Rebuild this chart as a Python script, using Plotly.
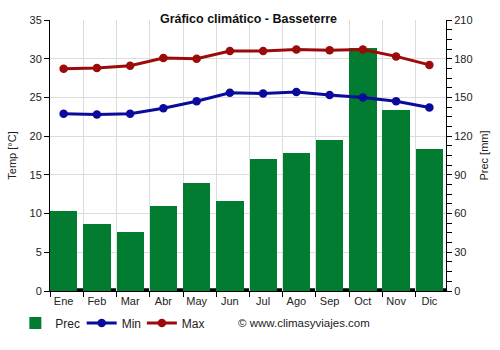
import numpy as np
import plotly.graph_objects as go

months = ["Ene", "Feb", "Mar", "Abr", "May", "Jun", "Jul", "Ago", "Sep", "Oct", "Nov", "Dic"]
prec = [62, 52, 46, 66, 84, 70, 102, 107, 117, 188, 140, 110]
tmin = [22.9, 22.8, 22.9, 23.6, 24.5, 25.6, 25.5, 25.7, 25.3, 25.0, 24.5, 23.7]
tmax = [28.7, 28.8, 29.1, 30.1, 30.0, 31.0, 31.0, 31.2, 31.1, 31.2, 30.3, 29.2]

idx = np.arange(len(months))
xc = idx + 0.41

GREEN = "#027c30"
BLUE = "#0a0a9c"
RED = "#9c0a0a"
FONT = "Liberation Sans, Arial, sans-serif"

fig = go.Figure()
fig.add_trace(go.Bar(x=xc, y=prec, width=0.82, name="Prec", marker=dict(color=GREEN, line=dict(width=0)),
                     yaxis="y", legend="legend"))
fig.add_trace(go.Scatter(x=xc, y=tmin, name="Min", mode="lines+markers",
                         line=dict(color=BLUE, width=3), marker=dict(size=8.5, color=BLUE),
                         yaxis="y2", legend="legend2"))
fig.add_trace(go.Scatter(x=xc, y=tmax, name="Max", mode="lines+markers",
                         line=dict(color=RED, width=3), marker=dict(size=8.5, color=RED),
                         yaxis="y2", legend="legend3"))

# thick dark baseline under the bars
fig.add_shape(type="rect", xref="paper", x0=0, x1=1, yref="y", y0=0, y1=2.2,
              fillcolor="black", line=dict(width=0), layer="below")

leg_common = dict(orientation="h", xanchor="left", y=-0.118, yanchor="middle",
                  font=dict(size=12, color="#222"), itemwidth=30, bgcolor="rgba(0,0,0,0)")

fig.update_layout(
    width=500, height=350,
    margin=dict(l=49, r=51, t=19.5, b=57.5),
    paper_bgcolor="white", plot_bgcolor="white",
    font=dict(family=FONT, size=11, color="#222"),
    title=dict(text="<b>Gráfico climático - Basseterre</b>", x=0.497, xanchor="center",
               y=0.948, yanchor="middle", font=dict(size=12.5, color="#111")),
    showlegend=True,
    legend=dict(x=-0.0875, **leg_common),
    legend2=dict(x=0.08, **leg_common),
    legend3=dict(x=0.232, **leg_common),
    bargap=0,
    xaxis=dict(range=[0, 11.91], tickmode="array", tickvals=list(xc), ticktext=months,
               ticks="", showgrid=False, zeroline=False,
               showline=True, linecolor="black", linewidth=1,
               tickfont=dict(size=11, color="#222"),
               minor=dict(tickmode="linear", tick0=0, dtick=1, ticks="outside", ticklen=5,
                          tickcolor="black", showgrid=True, gridcolor="#dcdcdc", gridwidth=1)),
    yaxis=dict(side="right", range=[0, 210], tickmode="linear", tick0=0, dtick=30,
               ticks="outside", ticklen=5, tickcolor="black",
               showline=True, linecolor="black", linewidth=1,
               showgrid=True, gridcolor="#dcdcdc", zeroline=False,
               minor=dict(tick0=0, dtick=7.5, ticks="outside", ticklen=5, tickcolor="black", showgrid=False),
               title=dict(text="Prec [mm]", font=dict(size=11, color="#222"), standoff=8),
               tickfont=dict(size=11, color="#222")),
    yaxis2=dict(side="left", overlaying="y", range=[0, 35], tickmode="linear", tick0=0, dtick=5,
                ticks="outside", ticklen=5, tickcolor="black",
                showline=True, linecolor="black", linewidth=1,
                showgrid=False, zeroline=False,
                title=dict(text="Temp [°C]", font=dict(size=11, color="#222"), standoff=10),
                tickfont=dict(size=11, color="#222")),
    annotations=[dict(text="© www.climasyviajes.com", xref="paper", yref="paper",
                      x=0.47, xanchor="left", y=-0.118, yanchor="middle", showarrow=False,
                      font=dict(size=11.5, color="#222"))],
)

fig.write_html("out.html")
